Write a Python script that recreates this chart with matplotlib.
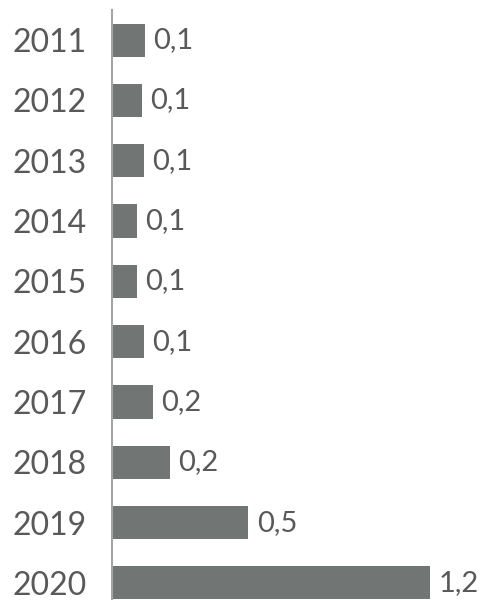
import matplotlib
matplotlib.use("Agg")
import matplotlib.pyplot as plt

years = ["2011", "2012", "2013", "2014", "2015", "2016", "2017", "2018", "2019", "2020"]
values = [0.124, 0.113, 0.12, 0.094, 0.094, 0.12, 0.154, 0.218, 0.515, 1.2]
labels = ["0,1", "0,1", "0,1", "0,1", "0,1", "0,1", "0,2", "0,2", "0,5", "1,2"]

plt.rcParams["font.family"] = ["Lato", "DejaVu Sans"]
text_col = "#595959"
bar_col = "#717674"

fig = plt.figure(figsize=(4.88, 6.0), dpi=100)
x0 = 112 / 488
ax = fig.add_axes([x0, 1 - 613 / 600, 1 - x0, 603 / 600])

pos = list(range(len(years)))
ax.barh(pos, values, height=0.55, color=bar_col)
ax.set_ylim(len(years) - 0.5, -0.5)
ax.set_xlim(0, (488 - 112) / 265.0)

for p, v, lab in zip(pos, values, labels):
    ax.annotate(lab, (v, p), xytext=(6, 0), textcoords="offset points",
                va="center", ha="left", fontsize=21, color=text_col)

ax.set_yticks(pos)
ax.set_yticklabels(years, fontsize=23, color=text_col)
ax.tick_params(axis="y", length=0, pad=18)
ax.set_xticks([])
for s in ["top", "right", "bottom"]:
    ax.spines[s].set_visible(False)
ax.spines["left"].set_color("#a6a6a6")
ax.spines["left"].set_linewidth(1.5)

fig.savefig("out.png", dpi=100)
